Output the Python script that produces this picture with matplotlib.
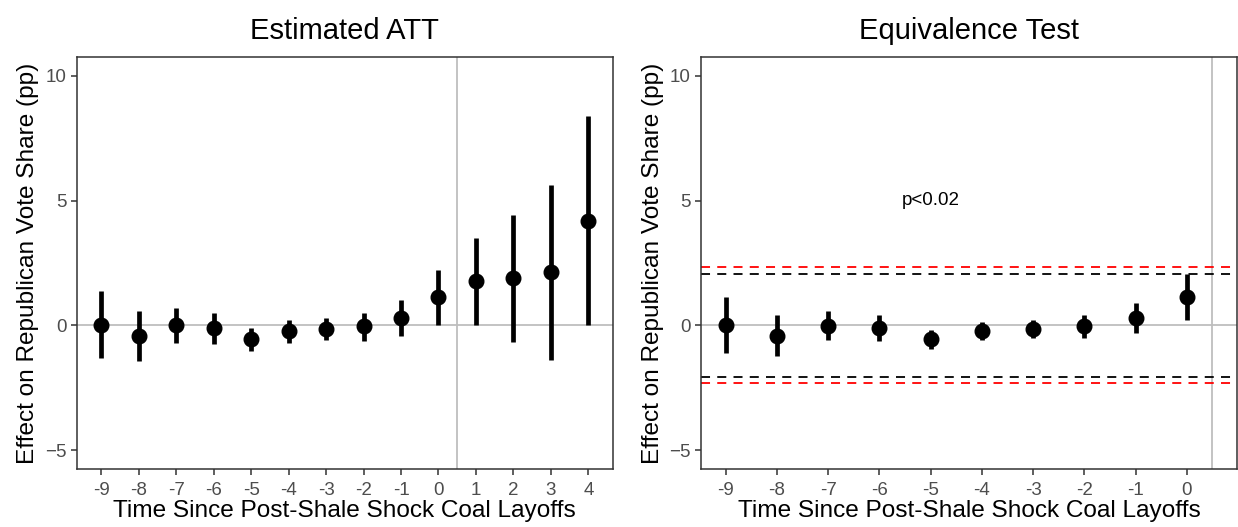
import matplotlib
matplotlib.use("Agg")
import matplotlib.pyplot as plt
import numpy as np

plt.rcParams['font.family'] = ['Liberation Sans', 'DejaVu Sans']

# left panel: estimated ATT
att_t = np.arange(-9, 5)
att_est = [0.03, -0.41, 0.0, -0.09, -0.56, -0.23, -0.13, -0.04, 0.31, 1.13, 1.78, 1.89, 2.14, 4.20]
att_lo = [-1.32, -1.41, -0.72, -0.74, -1.02, -0.69, -0.60, -0.61, -0.43, 0.0, 0.0, -0.66, -1.38, 0.0]
att_hi = [1.37, 0.59, 0.68, 0.51, -0.09, 0.21, 0.29, 0.48, 1.01, 2.22, 3.51, 4.43, 5.64, 8.38]

# right panel: equivalence test (pre-period)
eq_t = np.arange(-9, 1)
eq_est = [0.03, -0.41, -0.01, -0.09, -0.56, -0.23, -0.15, -0.04, 0.31, 1.12]
eq_lo = [-1.09, -1.22, -0.59, -0.64, -0.93, -0.60, -0.52, -0.51, -0.31, 0.20]
eq_hi = [1.14, 0.41, 0.56, 0.40, -0.19, 0.13, 0.23, 0.40, 0.89, 2.05]
bound_black = 2.06
bound_red = 2.32

fig = plt.figure(figsize=(12.38, 5.27), dpi=100)
ax1 = fig.add_axes([0.062, 0.110, 0.433, 0.782])
ax2 = fig.add_axes([0.5665, 0.110, 0.4325, 0.782])

def style(ax, xmin, xmax, ticks, title):
    ax.axhline(0, color='#BEBEBE', lw=1.3, zorder=1)
    ax.axvline(0.5, color='#BEBEBE', lw=1.3, zorder=1)
    ax.set_xlim(xmin, xmax)
    ax.set_ylim(-5.75, 10.75)
    ax.set_xticks(ticks)
    ax.set_xticklabels([str(t) for t in ticks])
    ax.set_yticks([-5, 0, 5, 10])
    ax.tick_params(colors='#333333', labelcolor='#4D4D4D', labelsize=13.5,
                   length=4, width=1.1)
    ax.tick_params(axis='x', pad=5)
    for s in ax.spines.values():
        s.set_color('#333333')
        s.set_linewidth(1.1)
    ax.set_title(title, fontsize=21, pad=13)
    ax.set_xlabel('Time Since Post-Shale Shock Coal Layoffs', fontsize=17.6, labelpad=1)
    ax.set_ylabel('Effect on Republican Vote Share (pp)', fontsize=17.6, labelpad=4)

style(ax1, -9.65, 4.65, att_t, 'Estimated ATT')
ax1.vlines(att_t, att_lo, att_hi, color='black', lw=3.4, zorder=3)
ax1.plot(att_t, att_est, 'o', color='black', ms=10.5, zorder=4)

style(ax2, -9.475, 0.975, eq_t, 'Equivalence Test')
for b in (bound_black, -bound_black):
    ax2.axhline(b, color='black', lw=1.3, dashes=(5, 4), zorder=2)
for b in (bound_red, -bound_red):
    ax2.axhline(b, color='red', lw=1.3, dashes=(5, 4), zorder=2)
ax2.vlines(eq_t, eq_lo, eq_hi, color='black', lw=3.4, zorder=3)
ax2.plot(eq_t, eq_est, 'o', color='black', ms=10.5, zorder=4)
ax2.text(-5, 5, 'p<0.02', ha='center', va='center', fontsize=13.5)

fig.savefig('out.png', dpi=100)
